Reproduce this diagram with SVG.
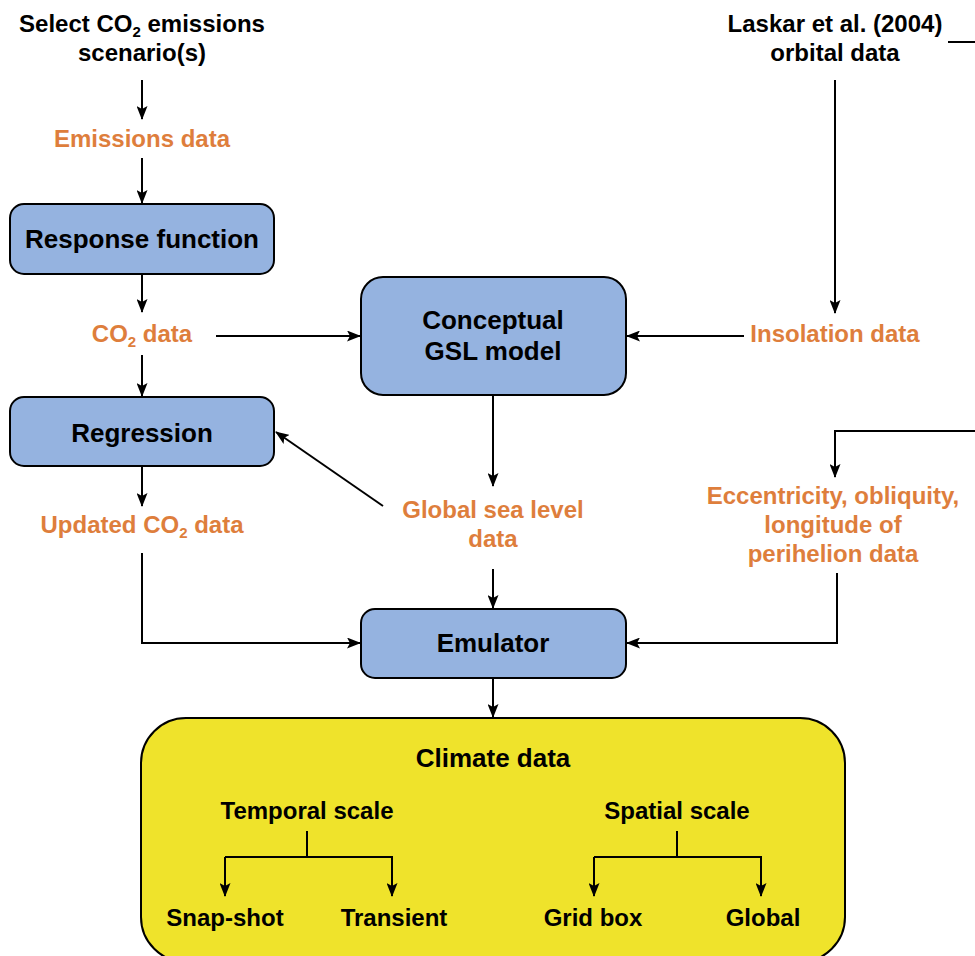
<svg xmlns="http://www.w3.org/2000/svg" width="975" height="956" viewBox="0 0 975 956">
<style>
text{font-family:"Liberation Sans",Arial,sans-serif;font-weight:bold;text-anchor:middle}
.lab{font-size:24px;fill:#000}
.box{font-size:26px;fill:#000}
.or{font-size:24px;fill:#DE7E3C}
.sub{font-size:15px}
.node{fill:#95B3E0;stroke:#000;stroke-width:2}
.clim{fill:#EFE32B;stroke:#000;stroke-width:2}
.c line,.c path{stroke:#000;stroke-width:2;fill:none}
</style>
<defs>
<marker id="ah" viewBox="0 0 14 11" refX="13" refY="5.5" markerWidth="14" markerHeight="11" markerUnits="userSpaceOnUse" orient="auto">
<path d="M0,0 L14,5.5 L0,11 L3,5.5 z" fill="#000"/>
</marker>
</defs>
<rect width="975" height="956" fill="#fff"/>

<g id="select">
<text class="lab" x="142" y="32">Select CO<tspan class="sub" dy="5">2</tspan><tspan dy="-5"> emissions</tspan></text>
<text class="lab" x="142" y="61">scenario(s)</text>
</g>
<g id="emissions"><text class="or" x="142" y="147">Emissions data</text></g>
<g id="response"><rect class="node" x="10" y="204" width="264" height="70" rx="14"/><text class="box" x="142" y="248">Response function</text></g>
<g id="co2"><text class="or" x="142" y="342">CO<tspan class="sub" dy="5">2</tspan><tspan dy="-5"> data</tspan></text></g>
<g id="regression"><rect class="node" x="10" y="397" width="264" height="69" rx="14"/><text class="box" x="142" y="442">Regression</text></g>
<g id="updated"><text class="or" x="142" y="533">Updated CO<tspan class="sub" dy="5">2</tspan><tspan dy="-5"> data</tspan></text></g>
<g id="gsl"><rect class="node" x="361" y="277" width="265" height="118" rx="22"/><text class="box" x="493" y="329">Conceptual</text><text class="box" x="493" y="360">GSL model</text></g>
<g id="sealevel"><text class="or" x="493" y="518">Global sea level</text><text class="or" x="493" y="547">data</text></g>
<g id="emulator"><rect class="node" x="361" y="609" width="265" height="69" rx="14"/><text class="box" x="493" y="652">Emulator</text></g>
<g id="laskar"><text class="lab" x="835" y="32">Laskar et al. (2004)</text><text class="lab" x="835" y="61">orbital data</text></g>
<g id="insolation"><text class="or" x="835" y="342">Insolation data</text></g>
<g id="orbital"><text class="or" x="833" y="504">Eccentricity, obliquity,</text><text class="or" x="833" y="533">longitude of</text><text class="or" x="833" y="562">perihelion data</text></g>
<g id="climate">
<rect class="clim" x="141" y="718" width="704" height="244" rx="45"/>
<text class="box" x="493" y="767">Climate data</text>
<text class="lab" x="307" y="819">Temporal scale</text>
<text class="lab" x="677" y="819">Spatial scale</text>
<text class="lab" x="225" y="926">Snap-shot</text>
<text class="lab" x="394" y="926">Transient</text>
<text class="lab" x="593" y="926">Grid box</text>
<text class="lab" x="763" y="926">Global</text>
</g>

<g id="connectors" class="c">
<line x1="142" y1="80" x2="142" y2="119" marker-end="url(#ah)"/>
<line x1="142" y1="158" x2="142" y2="203" marker-end="url(#ah)"/>
<line x1="142" y1="274" x2="142" y2="312" marker-end="url(#ah)"/>
<line x1="142" y1="355" x2="142" y2="396" marker-end="url(#ah)"/>
<line x1="142" y1="467" x2="142" y2="506" marker-end="url(#ah)"/>
<path d="M142,553 V643 H360" marker-end="url(#ah)"/>
<line x1="216" y1="336" x2="360" y2="336" marker-end="url(#ah)"/>
<line x1="383" y1="506" x2="276" y2="432" marker-end="url(#ah)"/>
<line x1="493" y1="395" x2="493" y2="486" marker-end="url(#ah)"/>
<line x1="493" y1="569" x2="493" y2="608" marker-end="url(#ah)"/>
<line x1="493" y1="678" x2="493" y2="717" marker-end="url(#ah)"/>
<line x1="948" y1="42" x2="975" y2="42"/>
<line x1="835" y1="80" x2="835" y2="313" marker-end="url(#ah)"/>
<line x1="744" y1="336" x2="627" y2="336" marker-end="url(#ah)"/>
<path d="M975,431 H835 V477" marker-end="url(#ah)"/>
<path d="M837,573 V643 H627" marker-end="url(#ah)"/>
<line x1="307" y1="831" x2="307" y2="857"/>
<path d="M225,857 H392 V896" marker-end="url(#ah)"/>
<line x1="225" y1="857" x2="225" y2="896" marker-end="url(#ah)"/>
<line x1="677" y1="831" x2="677" y2="857"/>
<path d="M594,857 H761 V896" marker-end="url(#ah)"/>
<line x1="594" y1="857" x2="594" y2="896" marker-end="url(#ah)"/>
</g>
</svg>
